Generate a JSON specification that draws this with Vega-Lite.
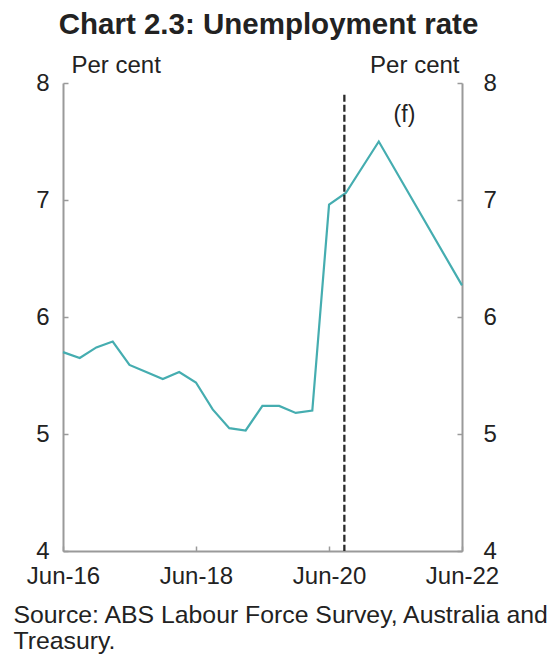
{
  "$schema": "https://vega.github.io/schema/vega-lite/v6.json",
  "width": 399,
  "height": 468,
  "autosize": {"type": "none"},
  "padding": {"left": 63, "top": 83, "right": 90, "bottom": 103},
  "background": "white",
  "config": {
    "font": "Liberation Sans",
    "view": {"stroke": null},
    "axis": {
      "grid": false,
      "labelFont": "Liberation Sans",
      "labelFontSize": 24,
      "labelColor": "#222222",
      "domainColor": "#9a9a9a",
      "domainWidth": 2,
      "tickColor": "#9a9a9a",
      "tickWidth": 1.5,
      "titleFont": "Liberation Sans",
      "titleFontWeight": "normal",
      "titleFontSize": 24,
      "titleColor": "#222222"
    }
  },
  "title": {
    "text": "Chart 2.3: Unemployment rate",
    "font": "Liberation Sans",
    "fontSize": 29.5,
    "fontWeight": "bold",
    "color": "#222222",
    "anchor": "middle",
    "frame": "group",
    "baseline": "alphabetic",
    "offset": -10,
    "dx": 6
  },
  "datasets": {
    "rate": [
      {"date": "2016-06-01", "rate": 5.70},
      {"date": "2016-09-01", "rate": 5.65},
      {"date": "2016-12-01", "rate": 5.74},
      {"date": "2017-03-01", "rate": 5.79},
      {"date": "2017-06-01", "rate": 5.59},
      {"date": "2017-09-01", "rate": 5.53},
      {"date": "2017-12-01", "rate": 5.47},
      {"date": "2018-03-01", "rate": 5.53},
      {"date": "2018-06-01", "rate": 5.44},
      {"date": "2018-09-01", "rate": 5.21},
      {"date": "2018-12-01", "rate": 5.05},
      {"date": "2019-03-01", "rate": 5.03},
      {"date": "2019-06-01", "rate": 5.24},
      {"date": "2019-09-01", "rate": 5.24},
      {"date": "2019-12-01", "rate": 5.18},
      {"date": "2020-03-01", "rate": 5.20},
      {"date": "2020-06-01", "rate": 6.96},
      {"date": "2020-09-01", "rate": 7.06},
      {"date": "2021-03-01", "rate": 7.50},
      {"date": "2022-06-01", "rate": 6.27}
    ],
    "marker": [{"date": "2020-08-24", "top": 7.9, "bottom": 4}],
    "note": [{"date": "2021-07-20", "value": 7.73, "label": "(f)"}]
  },
  "resolve": {"scale": {"y": "independent"}},
  "layer": [
    {
      "data": {"name": "rate"},
      "mark": {"type": "line", "color": "#45adb0", "strokeWidth": 2.2},
      "encoding": {
        "x": {
          "field": "date",
          "type": "temporal",
          "scale": {"type": "utc", "domain": [{"year": 2016, "month": 6, "date": 1, "utc": true}, {"year": 2022, "month": 6, "date": 1, "utc": true}], "nice": false},
          "axis": {
            "orient": "bottom",
            "values": [
              {"year": 2016, "month": 6, "date": 1, "utc": true},
              {"year": 2018, "month": 6, "date": 1, "utc": true},
              {"year": 2020, "month": 6, "date": 1, "utc": true},
              {"year": 2022, "month": 6, "date": 1, "utc": true}
            ],
            "format": "%b-%y",
            "tickSize": -5,
            "labelPadding": 18,
            "labelFlush": false,
            "labelOverlap": false,
            "title": ["Source: ABS Labour Force Survey, Australia and", "Treasury."],
            "titleFontSize": 24.8,
            "titleAnchor": "start",
            "titleAlign": "left",
            "titleBaseline": "alphabetic",
            "titleX": -50,
            "titleY": 71,
            "titleLineHeight": 26
          }
        },
        "y": {
          "field": "rate",
          "type": "quantitative",
          "scale": {"domain": [4, 8], "nice": false, "zero": false},
          "axis": {
            "orient": "left",
            "values": [4, 5, 6, 7, 8],
            "tickSize": -5,
            "labelPadding": 19,
            "labelFlush": false,
            "labelOverlap": false,
            "title": "Per cent",
            "titleAngle": 0,
            "titleAlign": "left",
            "titleBaseline": "alphabetic",
            "titleX": 8,
            "titleY": -11
          }
        }
      }
    },
    {
      "data": {"name": "marker"},
      "mark": {"type": "rule", "color": "#2a2a2a", "strokeWidth": 2.3, "strokeDash": [7, 3]},
      "encoding": {
        "x": {"field": "date", "type": "temporal"},
        "y": {
          "field": "top",
          "type": "quantitative",
          "scale": {"domain": [4, 8], "nice": false, "zero": false},
          "axis": {
            "orient": "right",
            "values": [4, 5, 6, 7, 8],
            "tickSize": -5,
            "labelPadding": 26,
            "labelFlush": false,
            "labelOverlap": false,
            "title": "Per cent",
            "titleAngle": 0,
            "titleAlign": "right",
            "titleBaseline": "alphabetic",
            "titleX": -3,
            "titleY": -11
          }
        },
        "y2": {"field": "bottom"}
      }
    },
    {
      "data": {"name": "note"},
      "mark": {"type": "text", "fontSize": 23, "color": "#222222", "font": "Liberation Sans"},
      "encoding": {
        "x": {"field": "date", "type": "temporal"},
        "y": {"field": "value", "type": "quantitative", "scale": {"domain": [4, 8], "nice": false, "zero": false}, "axis": null},
        "text": {"field": "label"}
      }
    }
  ]
}
